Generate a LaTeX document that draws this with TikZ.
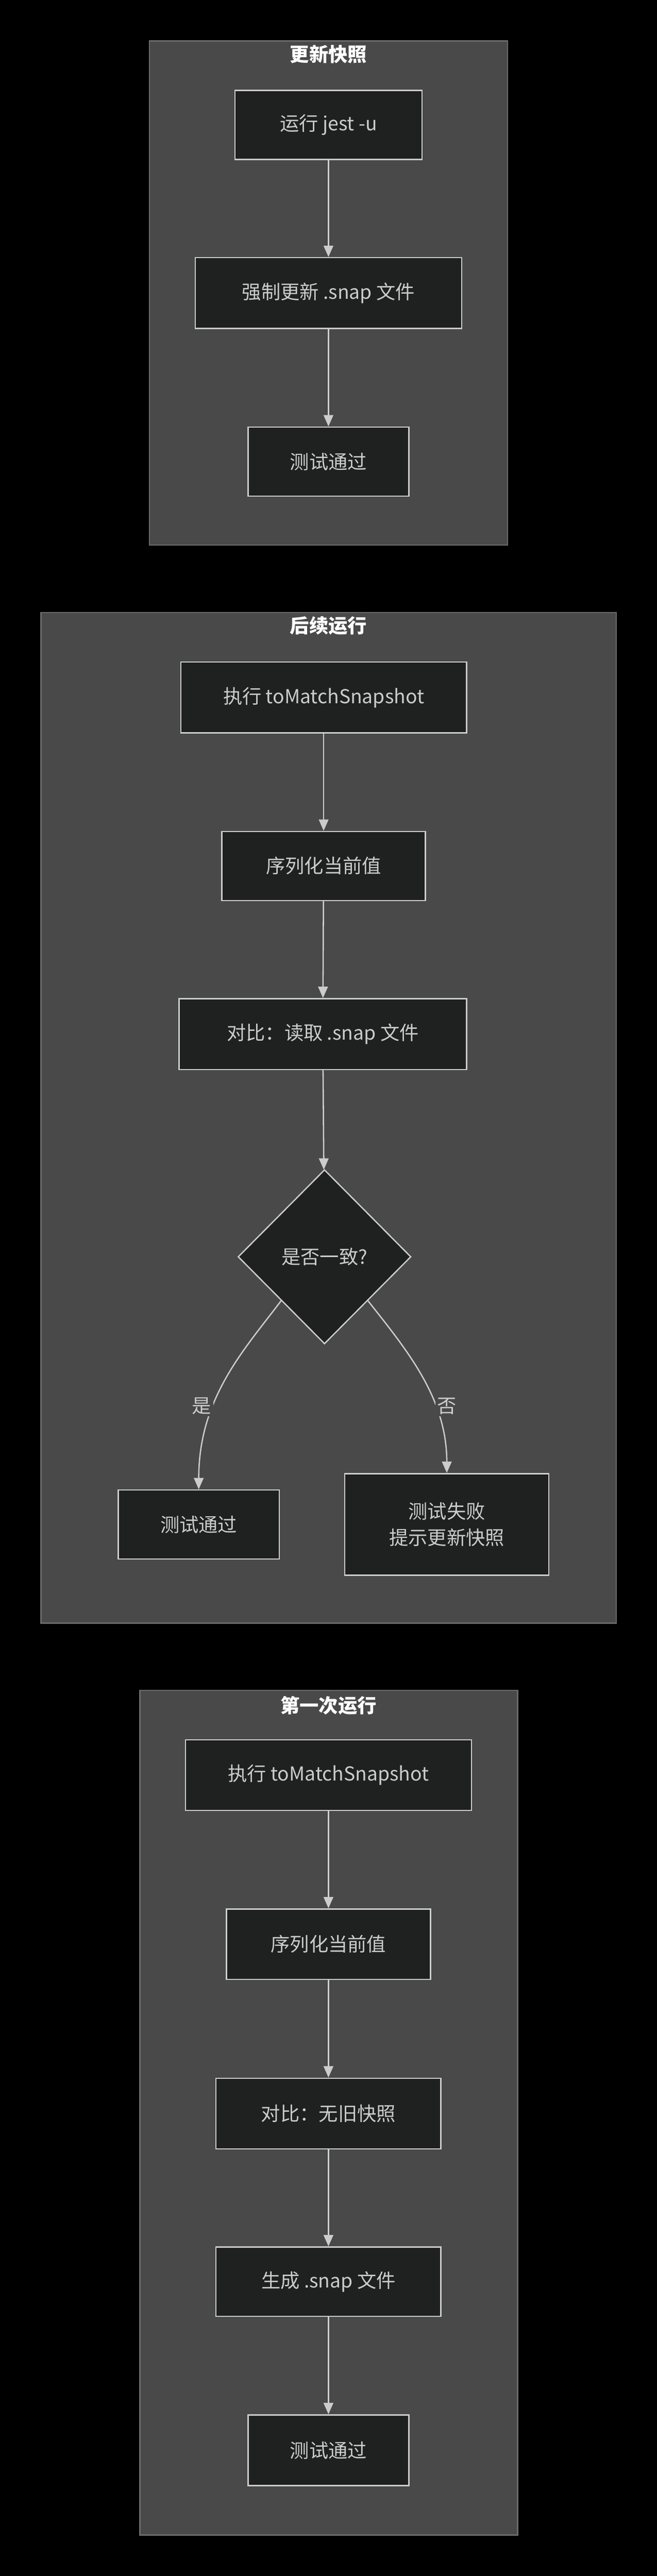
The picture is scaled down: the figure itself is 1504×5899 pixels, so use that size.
\documentclass[tikz,border=0pt]{standalone}
\usepackage{fontspec}
\setmainfont{Noto Sans CJK SC}
\usetikzlibrary{arrows.meta,shapes.geometric}
\definecolor{bgc}{HTML}{000000}
\definecolor{clusterc}{HTML}{484948}
\definecolor{clusterline}{HTML}{6A6A6A}
\definecolor{nodec}{HTML}{1F2020}
\definecolor{linec}{HTML}{CCCCCC}
\tikzset{
  box/.style={rectangle,draw=linec,line width=3pt,fill=nodec,text=linec,
              font=\fontsize{44}{60}\selectfont,align=center,inner sep=0pt},
  decision/.style={diamond,draw=linec,line width=3pt,fill=nodec,text=linec,
              font=\fontsize{44}{60}\selectfont,inner sep=0pt,aspect=0.79},
  cluster/.style={draw=clusterline,line width=3pt,fill=clusterc},
  title/.style={text=white,font=\fontsize{44}{60}\selectfont\bfseries},
  flow/.style={draw=linec,line width=3pt,-{Triangle[length=26pt,width=22pt]}},
  tag/.style={fill=clusterc,text=linec,font=\fontsize{44}{60}\selectfont,inner sep=4pt}
}
\begin{document}
\begin{tikzpicture}[x=1pt,y=-1pt]
  \fill[bgc] (0,0) rectangle (1504,5899);
  \useasboundingbox (0,0) rectangle (1504,5899);

  % 更新快照
  \draw[cluster] (342,94) rectangle (1162,1248);
  \node[title] (t1) at (752,124) {更新快照};
  \node[box,minimum width=428pt,minimum height=158pt] (u1) at (752,286) {运行 jest -u};
  \node[box,minimum width=610pt,minimum height=162pt] (u2) at (752,671) {强制更新 .snap 文件};
  \node[box,minimum width=368pt,minimum height=158pt] (u3) at (752,1057) {测试通过};
  \draw[flow] (u1) -- (u2);
  \draw[flow] (u2) -- (u3);

  % 后续运行
  \draw[cluster] (94,1403) rectangle (1411,3717);
  \node[title] (t2) at (752,1433) {后续运行};
  \node[box,minimum width=654pt,minimum height=162pt] (s1) at (741,1597) {执行 toMatchSnapshot};
  \node[box,minimum width=466pt,minimum height=158pt] (s2) at (741,1983) {序列化当前值};
  \node[box,minimum width=658pt,minimum height=162pt] (s3) at (739,2368) {对比：读取 .snap 文件};
  \node[decision,minimum width=396pt,minimum height=399pt] (s4) at (743,2878) {是否一致?};
  \node[box,minimum width=369pt,minimum height=158pt] (s5) at (455,3491) {测试通过};
  \node[box,minimum width=467pt,minimum height=233pt] (s6) at (1023,3491) {测试失败\\提示更新快照};
  \draw[flow] (s1) -- (s2);
  \draw[flow] (s2) -- (s3);
  \draw[flow] (s3) -- (s4);
  \draw[flow] (s4.south west) ++(2,-2) .. controls (560,3090) and (455,3200) .. (s5.north);
  \draw[flow] (s4.south east) ++(-2,-2) .. controls (930,3090) and (1023,3200) .. (s6.north);
  \node[tag] (yes) at (462,3220) {是};
  \node[tag] (no) at (1023,3220) {否};

  % 第一次运行
  \draw[cluster] (320,3871) rectangle (1185,5805);
  \node[title] (t3) at (752,3905) {第一次运行};
  \node[box,minimum width=655pt,minimum height=162pt] (f1) at (752,4065) {执行 toMatchSnapshot};
  \node[box,minimum width=467pt,minimum height=161pt] (f2) at (752,4452) {序列化当前值};
  \node[box,minimum width=515pt,minimum height=162pt] (f3) at (752,4840) {对比：无旧快照};
  \node[box,minimum width=515pt,minimum height=159pt] (f4) at (752,5225) {生成 .snap 文件};
  \node[box,minimum width=368pt,minimum height=162pt] (f5) at (752,5611) {测试通过};
  \draw[flow] (f1) -- (f2);
  \draw[flow] (f2) -- (f3);
  \draw[flow] (f3) -- (f4);
  \draw[flow] (f4) -- (f5);
\end{tikzpicture}
\end{document}
